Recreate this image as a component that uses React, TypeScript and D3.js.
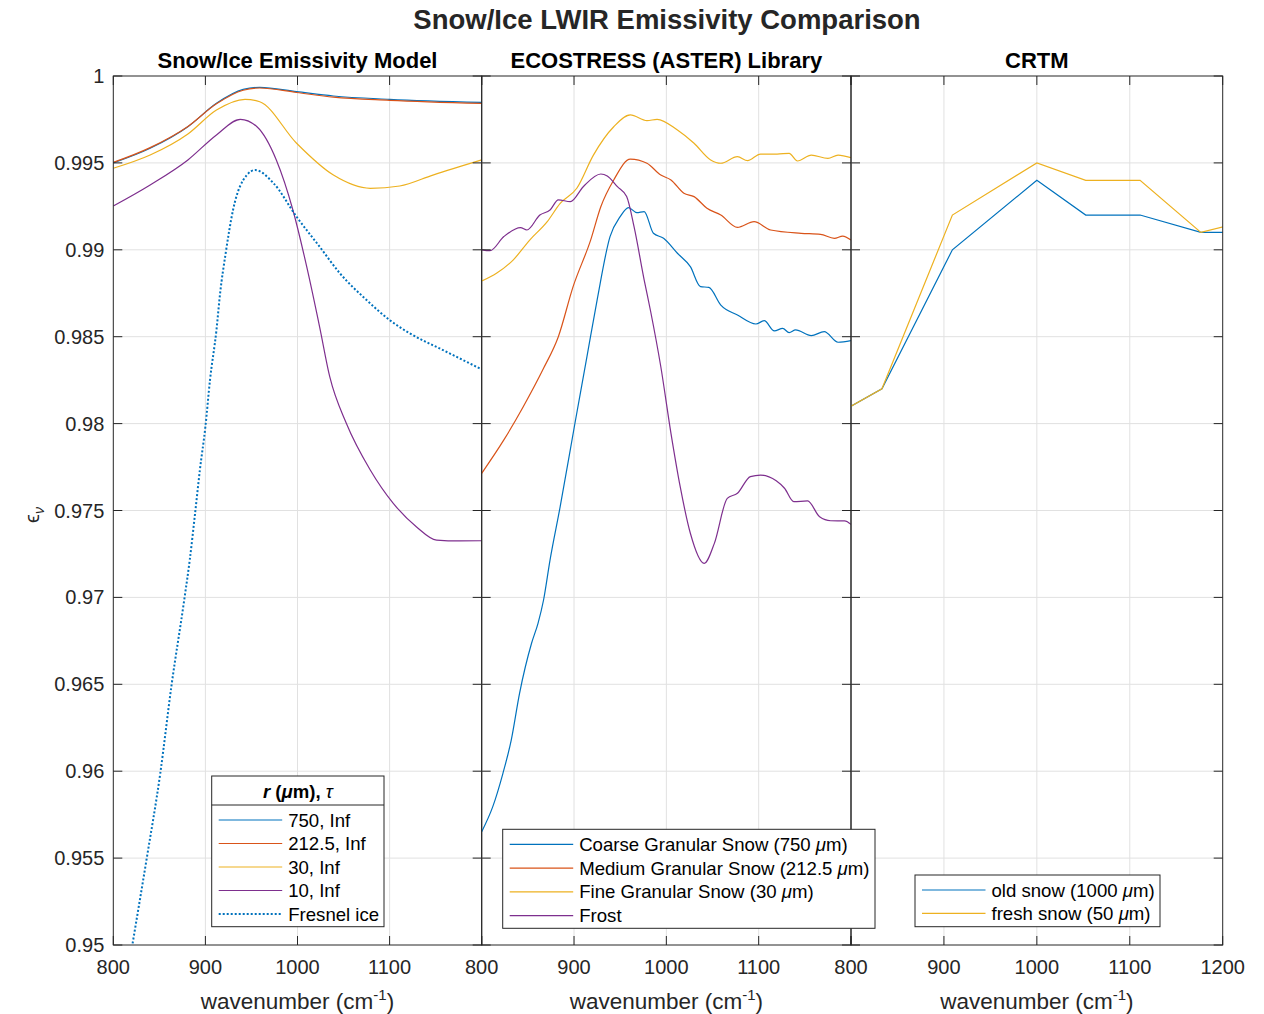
import React from 'react'
import * as d3 from 'd3'

// Snow/Ice emissivity model (wavenumber in cm^-1)
const modelWn = [800, 840, 881, 912, 941, 959, 999, 1039, 1100, 1200]
const model750 = [0.995, 0.99584, 0.99708, 0.99843, 0.99923, 0.99935, 0.9991, 0.99885, 0.99866, 0.99848]
const model212 = [0.99503, 0.99588, 0.9971, 0.9984, 0.99918, 0.99931, 0.99905, 0.99878, 0.9986, 0.99842]
const model30Wn = [800, 840, 881, 912, 943, 959, 999, 1039, 1079, 1111, 1147, 1200]
const model30 = [0.99469, 0.99545, 0.99666, 0.99804, 0.99866, 0.99852, 0.99613, 0.9943, 0.99354, 0.99367, 0.9943, 0.99517]
const model10Wn = [800, 840, 881, 912, 938, 956, 977, 995, 1010, 1024, 1035, 1053, 1079, 1104, 1129, 1151, 1176, 1200]
const model10 = [0.99252, 0.99373, 0.99517, 0.99661, 0.99751, 0.99708, 0.99517, 0.99229, 0.98903, 0.98557, 0.9827, 0.98002, 0.97733, 0.97541, 0.97407, 0.9733, 0.97325, 0.97326]
const fresnelWn = [816, 821, 836, 851, 863, 877, 883, 889, 894, 900, 905, 912, 916, 922, 930, 945, 954, 974, 999, 1024, 1046, 1075, 1100, 1122, 1158, 1200]
const fresnel = [0.9485, 0.9501, 0.95489, 0.95988, 0.96486, 0.96985, 0.97215, 0.97493, 0.97733, 0.97982, 0.98251, 0.98538, 0.98751, 0.9898, 0.99229, 0.9943, 0.99459, 0.99383, 0.9919, 0.99018, 0.98865, 0.98711, 0.98596, 0.98519, 0.98423, 0.98312]

// ECOSTRESS (ASTER) library
const coarseWn = [800, 812, 823, 832, 841, 854, 861, 867, 874, 885, 901, 914, 925, 939, 950, 959, 968, 976, 986, 997, 1012, 1026, 1037, 1046, 1059, 1077, 1097, 1106, 1117, 1126, 1133, 1140, 1157, 1171, 1186, 1200]
const coarse = [0.95652, 0.95796, 0.95988, 0.96179, 0.96448, 0.96736, 0.96851, 0.96985, 0.97215, 0.97522, 0.98002, 0.98385, 0.98711, 0.99076, 0.99191, 0.99243, 0.99214, 0.9922, 0.99095, 0.99066, 0.9898, 0.98903, 0.98788, 0.98784, 0.98682, 0.98625, 0.98573, 0.98592, 0.98533, 0.98548, 0.98523, 0.98539, 0.98506, 0.98529, 0.98468, 0.98477]
const mediumWn = [800, 824, 845, 867, 883, 899, 918, 929, 943, 961, 979, 994, 1005, 1019, 1030, 1044, 1059, 1077, 1095, 1113, 1146, 1167, 1182, 1191, 1200]
const medium = [0.97714, 0.97906, 0.98097, 0.98318, 0.985, 0.98788, 0.99056, 0.99248, 0.99402, 0.99522, 0.99498, 0.9943, 0.99402, 0.99325, 0.99306, 0.99239, 0.992, 0.99129, 0.99162, 0.99114, 0.99095, 0.99089, 0.99066, 0.99079, 0.99056]
const fineWn = [800, 816, 834, 852, 871, 885, 903, 921, 943, 961, 979, 990, 1012, 1030, 1048, 1059, 1077, 1088, 1102, 1120, 1133, 1142, 1157, 1175, 1186, 1200]
const fine = [0.9882, 0.98865, 0.98941, 0.99056, 0.99162, 0.99267, 0.99354, 0.99545, 0.99708, 0.99776, 0.99743, 0.99751, 0.99689, 0.99613, 0.99517, 0.99498, 0.99536, 0.99513, 0.99551, 0.99551, 0.99555, 0.99511, 0.99545, 0.99526, 0.99545, 0.9953]
const frostWn = [800, 809, 824, 842, 849, 863, 874, 883, 896, 910, 929, 936, 947, 957, 965, 976, 983, 994, 1005, 1015, 1026, 1041, 1052, 1066, 1077, 1091, 1102, 1119, 1128, 1138, 1153, 1166, 1178, 1193, 1200]
const frost = [0.99, 0.98995, 0.99076, 0.99128, 0.99114, 0.992, 0.99229, 0.99287, 0.99277, 0.99363, 0.99436, 0.99425, 0.99363, 0.99306, 0.99133, 0.98826, 0.98645, 0.98327, 0.97944, 0.97637, 0.97369, 0.97196, 0.97311, 0.9757, 0.97599, 0.97695, 0.97704, 0.97671, 0.97628, 0.97551, 0.97555, 0.97464, 0.97441, 0.9744, 0.9742]

// CRTM
const crtmWn = [800, 833.3, 909.1, 1000, 1052.6, 1111.1, 1176.5, 1250]
const crtmOld = [0.981, 0.982, 0.99, 0.994, 0.992, 0.992, 0.991, 0.991]
const crtmFresh = [0.981, 0.982, 0.992, 0.995, 0.994, 0.994, 0.991, 0.992]

const xTicks = [800, 900, 1000, 1100, 1200]
const yTicks = [0.95, 0.955, 0.96, 0.965, 0.97, 0.975, 0.98, 0.985, 0.99, 0.995, 1]

const font = "'Liberation Sans', Arial, Helvetica, sans-serif"
const axisColor = '#262626'
const gridColor = '#e1e1e1'
const blue = '#0072BD'
const orange = '#D95319'
const yellow = '#EDB120'
const purple = '#7E2F8E'

const top = 76
const bottom = 945
const y = d3.scaleLinear().domain([0.95, 1]).range([bottom, top])

const tickFont = 20
const legendFont = 18.6

type Series = { wn: number[]; v: number[]; color: string; dotted?: boolean; linear?: boolean; width?: number }

function Panel({ left, right, title, series, id, yLabels, lastLabel }: {
  left: number; right: number; title: string; series: Series[]; id: string; yLabels: boolean; lastLabel: boolean
}) {
  const x = d3.scaleLinear().domain([800, 1200]).range([left, right])
  const mid = (left + right) / 2
  return (
    <g>
      <defs>
        <clipPath id={id}>
          <rect x={left} y={top} width={right - left} height={bottom - top} />
        </clipPath>
      </defs>
      {/* grid */}
      {xTicks.slice(1, -1).map(t => (
        <line key={'gx' + t} x1={x(t)} x2={x(t)} y1={top} y2={bottom} stroke={gridColor} strokeWidth={1} />
      ))}
      {yTicks.slice(1, -1).map(t => (
        <line key={'gy' + t} x1={left} x2={right} y1={y(t)} y2={y(t)} stroke={gridColor} strokeWidth={1} />
      ))}
      {/* data */}
      <g clipPath={`url(#${id})`}>
        {series.map((s, i) => {
          const line = d3
            .line<number>()
            .x(j => x(s.wn[j]))
            .y(j => y(s.v[j]))
            .curve(s.linear ? d3.curveLinear : d3.curveMonotoneX)
          return (
            <path
              key={i}
              d={line(s.wn.map((_, j) => j)) || ''}
              fill="none"
              stroke={s.color}
              strokeWidth={s.width || 1.2}
              strokeDasharray={s.dotted ? '2 2' : undefined}
            />
          )
        })}
      </g>
      {/* box and ticks */}
      <rect x={left} y={top} width={right - left} height={bottom - top} fill="none" stroke={axisColor} strokeWidth={1} />
      {yTicks.map(t => (
        <g key={'ty' + t}>
          <line x1={left} x2={left + 9} y1={y(t)} y2={y(t)} stroke={axisColor} />
          <line x1={right - 9} x2={right} y1={y(t)} y2={y(t)} stroke={axisColor} />
        </g>
      ))}
      {xTicks.map(t => (
        <g key={'tx' + t}>
          <line x1={x(t)} x2={x(t)} y1={bottom} y2={bottom - 9} stroke={axisColor} />
          <line x1={x(t)} x2={x(t)} y1={top} y2={top + 9} stroke={axisColor} />
        </g>
      ))}
      {/* tick labels */}
      {(lastLabel ? xTicks : xTicks.slice(0, -1)).map(t => (
        <text key={'lx' + t} x={x(t)} y={974} textAnchor="middle" fontSize={tickFont} fill={axisColor} fontFamily={font}>
          {t}
        </text>
      ))}
      {yLabels &&
        yTicks.map(t => (
          <text key={'ly' + t} x={left - 9} y={y(t) + 7} textAnchor="end" fontSize={tickFont} fill={axisColor} fontFamily={font}>
            {d3.format('')(+t.toFixed(3))}
          </text>
        ))}
      <text x={mid} y={1009} textAnchor="middle" fontSize={22.5} fill={axisColor} fontFamily={font}>
        wavenumber (cm
        <tspan dy={-9} fontSize={15}>-1</tspan>
        <tspan dy={9}>)</tspan>
      </text>
      <text x={mid} y={68} textAnchor="middle" fontSize={22} fontWeight="bold" fill="#000" fontFamily={font}>
        {title}
      </text>
    </g>
  )
}

type Row = { color: string; dotted?: boolean; label: React.ReactNode }

function Legend({ x0, y0, w, h, rows, header, lineLen, rowH }: {
  x0: number; y0: number; w: number; h: number; rows: Row[]; header?: React.ReactNode; lineLen: number; rowH: number
}) {
  const headH = header ? 29 : 0
  return (
    <g fontFamily={font}>
      <rect x={x0} y={y0} width={w} height={h} fill="#fff" stroke={axisColor} strokeWidth={1} />
      {header && (
        <g>
          <text x={x0 + w / 2} y={y0 + 22} textAnchor="middle" fontSize={legendFont} fontWeight="bold" fill="#000">
            {header}
          </text>
          <line x1={x0} x2={x0 + w} y1={y0 + headH} y2={y0 + headH} stroke={axisColor} />
        </g>
      )}
      {rows.map((r, i) => {
        const cy = y0 + headH + 15 + i * rowH
        return (
          <g key={i}>
            <line
              x1={x0 + 7}
              x2={x0 + 7 + lineLen}
              y1={cy}
              y2={cy}
              stroke={r.color}
              strokeWidth={r.dotted ? 2 : 1.2}
              strokeDasharray={r.dotted ? '2 2' : undefined}
            />
            <text x={x0 + lineLen + 13} y={cy + 6.5} fontSize={legendFont} fill="#000">
              {r.label}
            </text>
          </g>
        )
      })}
    </g>
  )
}

const mu = <tspan fontStyle="italic">{'\u03bc'}</tspan>

export default function App() {
  const p1: Series[] = [
    { wn: modelWn, v: model750, color: blue },
    { wn: modelWn, v: model212, color: orange },
    { wn: model30Wn, v: model30, color: yellow },
    { wn: model10Wn, v: model10, color: purple },
    { wn: fresnelWn, v: fresnel, color: blue, dotted: true, width: 2 },
  ]
  const p2: Series[] = [
    { wn: coarseWn, v: coarse, color: blue },
    { wn: mediumWn, v: medium, color: orange },
    { wn: fineWn, v: fine, color: yellow },
    { wn: frostWn, v: frost, color: purple },
  ]
  const p3: Series[] = [
    { wn: crtmWn, v: crtmOld, color: blue, linear: true },
    { wn: crtmWn, v: crtmFresh, color: yellow, linear: true },
  ]
  return (
    <svg
      width={1264}
      height={1014}
      style={{ position: 'absolute', left: 0, top: 0, background: '#fff' }}
    >
      <rect width={1264} height={1014} fill="#fff" />
      <text x={667} y={29} textAnchor="middle" fontSize={27.5} fontWeight="bold" fill={axisColor} fontFamily={font}>
        Snow/Ice LWIR Emissivity Comparison
      </text>
      <Panel left={113.3} right={481.7} title="Snow/Ice Emissivity Model" series={p1} id="c1" yLabels={true} lastLabel={false} />
      <Panel left={481.7} right={851} title="ECOSTRESS (ASTER) Library" series={p2} id="c2" yLabels={false} lastLabel={false} />
      <Panel left={851} right={1222.7} title="CRTM" series={p3} id="c3" yLabels={false} lastLabel={true} />
      <text transform="translate(39,515) rotate(-90)" textAnchor="middle" fontSize={20} fill={axisColor} fontFamily={font}>
        <tspan>{'\u03f5'}</tspan>
        <tspan dy={5} fontSize={14} fontStyle="italic">{'\u03bd'}</tspan>
      </text>
      <Legend
        x0={211.7}
        y0={776}
        w={172.3}
        h={150.7}
        lineLen={63.5}
        rowH={23.5}
        header={
          <>
            <tspan fontStyle="italic">r</tspan> ({mu}m), <tspan fontStyle="italic" fontWeight="normal">{'\u03c4'}</tspan>
          </>
        }
        rows={[
          { color: blue, label: '750, Inf' },
          { color: orange, label: '212.5, Inf' },
          { color: yellow, label: '30, Inf' },
          { color: purple, label: '10, Inf' },
          { color: blue, dotted: true, label: 'Fresnel ice' },
        ]}
      />
      <Legend
        x0={502.7}
        y0={829.3}
        w={372.3}
        h={99}
        lineLen={63.5}
        rowH={23.8}
        rows={[
          { color: blue, label: <>Coarse Granular Snow (750 {mu}m)</> },
          { color: orange, label: <>Medium Granular Snow (212.5 {mu}m)</> },
          { color: yellow, label: <>Fine Granular Snow (30 {mu}m)</> },
          { color: purple, label: 'Frost' },
        ]}
      />
      <Legend
        x0={915}
        y0={875}
        w={245}
        h={51.7}
        lineLen={63.5}
        rowH={23.3}
        rows={[
          { color: blue, label: <>old snow (1000 {mu}m)</> },
          { color: yellow, label: <>fresh snow (50 {mu}m)</> },
        ]}
      />
    </svg>
  )
}
